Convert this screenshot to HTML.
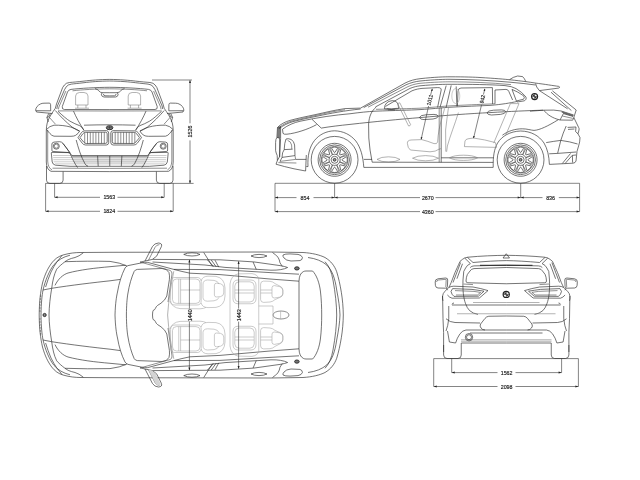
<!DOCTYPE html>
<html><head><meta charset="utf-8"><title>Dimensions</title>
<style>
html,body{margin:0;padding:0;background:#fff;}
body{width:640px;height:480px;overflow:hidden;font-family:"Liberation Sans",sans-serif;}
svg{display:block;will-change:transform;}
.k{fill:none;stroke:#2a2a2a;stroke-width:.65;stroke-linecap:butt;stroke-linejoin:round;}
.m{fill:none;stroke:#444;stroke-width:.6;stroke-linecap:butt;stroke-linejoin:round;}
.g{fill:none;stroke:#808080;stroke-width:.6;stroke-linecap:butt;stroke-linejoin:round;}
.l{fill:none;stroke:#a8a8a8;stroke-width:.6;stroke-linecap:butt;stroke-linejoin:round;}
.d{fill:none;stroke:#333;stroke-width:.6;}
.a{fill:#222;stroke:none;}
text{opacity:.999;font-family:"Liberation Sans",sans-serif;font-size:5.7px;fill:#111;stroke:#222;stroke-width:.15;text-anchor:middle;}
</style></head><body>
<svg width="640" height="480" viewBox="0 0 640 480">
<rect width="640" height="480" fill="#fff"/>
<!-- ================= FRONT VIEW ================= -->
<defs>
<g id="fh">
 <!-- roof / pillar / body side -->
 <path class="k" d="M109.75,79.4 C100,79.5 90,80.3 84,81.1 C78,81.8 73,82.2 69.5,82.5 Q66,82.8 64.4,85 L62.6,87.6 L56.5,104 L55.3,108.3 C52.5,112.5 49,117 47.2,123 Q46.3,126.5 46.3,131 L46.3,162 Q46.5,169.5 51,171.3 L109.75,171.6"/>
 <path class="m" d="M47.7,130 L47.7,161 Q48,168 52,169.8"/>
 <path class="k" d="M109.75,81 C100,81.1 90,81.9 84,82.7 C78,83.4 74,83.8 71.5,84.1 Q68,84.5 66.4,86.6 L64.6,89.5 L57.4,106 L56.8,109"/>
 <path class="m" d="M65.9,91 L58.9,107 L58.4,109.4"/>
 <!-- windshield -->
 <path class="k" d="M109.75,87.3 C96,87.4 80,88.3 71,89.4 Q68.3,89.8 67.5,92 L62.3,106.5 Q61.6,109.4 64.5,109.5 L109.75,109.6"/>
 <path class="m" d="M58,110.9 L109.75,111"/>
 <path class="m" d="M109.75,88.8 C96,88.9 82,89.7 72.5,90.8"/>
 <!-- mirror -->
 <path class="k" d="M35.6,110.3 Q36,106 40.6,103.9 Q42,103.2 44,103.2 L49.2,103.1 Q50.6,103.2 50.6,104.6 L50.7,110.8 L36,110.7 Q35.5,110.7 35.6,110.3 Z M36.1,110.8 L36.5,112 L52.4,113.5"/>
 <path class="k" d="M48.8,113.4 L46.9,117.4 L48.6,117 L50.4,113.5" fill="#666"/>
 <path class="k" d="M46.9,117.4 L48.2,122"/>
 <!-- headrest -->
 <!-- rear view mirror / sensor -->
 <path class="k" d="M95,88.6 Q97.5,89.2 98.8,90.8 Q100,92.6 102.5,92.7 L109.75,92.7"/>
 <path class="k" d="M102.6,92.8 Q101.2,93.2 101.4,94.8 Q101.8,96.8 104,97 L109.75,97.1 M103.5,94 Q103.4,95.6 105,95.8 L109.75,95.9"/>
 <!-- hood lines -->
 <path class="k" d="M55.3,110.5 C60,116 66,122 72,127 Q76,130 79.6,131"/>
 <path class="k" d="M73.5,111.1 C76,117 79.5,123.5 84,130.4"/>
 <path class="k" d="M58,111.3 C62,115 67,119.5 70,121.2 Q75,124 79.5,125.6 Q82,126.5 83.6,129.8"/>
 <path class="k" d="M84,125.2 Q97,124.8 109.75,124.8"/>
 <path class="m" d="M49.5,117.5 Q52.5,121 55.5,124.2"/>
 <!-- headlight -->
 <path class="k" d="M46.4,129.6 Q49.5,126 54,125.2 C60,125 66,125.8 70.5,127 Q76,128.6 79.5,131.1 Q78.5,133.6 75.5,135.4 Q74,136.3 71,136.3 L54,136.2 Q51.5,135.6 50,133.6 L46.9,130"/>
 <!-- grille -->
 <path class="k" d="M78,137.6 L81.4,132.6 Q82.6,131 84.6,130.9 L106.3,130.6 Q108.6,130.7 108.7,133 L108.7,142.6 Q108.6,144.9 106.3,145 L85.6,145 Q83.4,144.9 82.2,143.2 Z"/>
 <path class="k" d="M80,137.7 L82.8,133.8 Q83.8,132.5 85.3,132.4 L105.7,132.2 Q107.1,132.3 107.2,133.8 L107.2,141.8 Q107.1,143.3 105.6,143.4 L86.3,143.5 Q84.7,143.4 83.8,142.2 Z"/>
 <path class="m" d="M84.7,132.8 V143.1 M87.5,132.4 V143.5 M90.3,132.4 V143.5 M93.1,132.4 V143.5 M95.9,132.3 V143.5 M98.7,132.3 V143.5 M101.5,132.3 V143.4 M104.3,132.2 V143.4"/>
 <!-- logo -->
 <!-- fog light + lower intake -->
 <path class="k" d="M51.9,144 Q52,142.4 54,142.1 L59.6,141.7 Q61.8,141.8 63,143.4 L69.8,152.6 L52.6,151.4 Q51.8,151.2 51.9,150 Z"/>
 <circle class="k" cx="56.3" cy="146.2" r="3"/>
 <circle class="m" cx="56.3" cy="146.2" r="2"/>
 <path class="k" d="M51.3,153 Q51.2,152.4 52,152.4 L68,152.6 Q70,152.8 71,154.4 L72,155.7 L109.75,155.7"/>
 <path class="k" d="M51.3,153 L52.2,162 Q52.8,164.6 55.5,165.2 L70,166.3 L109.75,166.3"/>
 <path class="l" d="M53,155.5 H71 M53.2,157.6 H109.75 M53.4,159.7 H109.75 M53.7,161.8 H109.75 M55,163.9 H109.75"/>
 <path class="m" d="M71.5,156 H109.75"/>
 <path class="k" d="M97.6,155.8 L98.2,166.2"/>
 <path class="k" d="M76.2,140 C78,147 81,157 85,163.8 Q86,165.6 88,166.2"/>
 <path class="k" d="M69.8,152.6 C72,158 74.5,163.5 77.6,167.6 M62.8,143.3 Q66,147 69.8,152.6"/>
 <path class="m" d="M52.5,168.2 L109.75,168.4"/>
 <!-- wheel -->
 <path class="k" d="M46.5,166 L46.5,180.2 Q46.6,183.3 49.8,183.4 L59.8,183.4 Q63,183.3 63.1,180.2 L63.1,171.6"/>
</g>
</defs>
<path d="M72.5,156 H147 L145,163.6 H74.5 Z" fill="#e6e6e6"/>
<use href="#fh"/>
<use href="#fh" transform="translate(219.5,0) scale(-1,1)"/>
<path class="k" d="M109.75,155.8 V166.2"/>
<g id="hr1"><path class="g" d="M75.6,105 L75.6,96 Q75.8,92.6 79.5,92.5 L84,92.5 Q87.8,92.6 88,96 L88,105 Z M77.8,105 V108 M86,105 V108 M75,108.2 H89"/></g>
<use href="#hr1" transform="translate(52.6,0)"/>
<ellipse cx="109.6" cy="127.7" rx="3.3" ry="2" fill="#888" stroke="#222" stroke-width=".9"/>
<path d="M107.2,127.7 H112 M109.6,126 V129.4" stroke="#222" stroke-width=".5"/>
<!-- front dims -->
<path class="d" d="M45.5,183.4 H193.6 M152,80 H192 M190,80.5 V123.3 M190,140.4 V183"/>
<path class="a" d="M190,80 l-1,3 h2z M190,183.4 l-1,-3 h2z"/>
<text transform="translate(192.05,131.4) rotate(-90)" textLength="12" lengthAdjust="spacingAndGlyphs">1526</text>
<path class="d" d="M54.6,183.4 V197.3 M164.2,183.4 V197.3 M54.6,197.3 H100 M117.5,197.3 H164.2"/>
<path class="a" d="M54.6,197.3 l3,-1 v2z M164.2,197.3 l-3,-1 v2z"/>
<text x="109.3" y="199.35" textLength="11.8" lengthAdjust="spacingAndGlyphs">1563</text>
<path class="d" d="M45.6,183.4 V211.3 M173.2,183.4 V211.3 M45.6,211.3 H100 M117.5,211.3 H173.2"/>
<path class="a" d="M45.6,211.3 l3,-1 v2z M173.2,211.3 l-3,-1 v2z"/>
<text x="109.3" y="213.35" textLength="11.8" lengthAdjust="spacingAndGlyphs">1824</text>
<!-- ================= SIDE VIEW ================= -->
<g id="side">
 <!-- main outline: hood, windshield, roof, spoiler -->
 <path class="k" d="M277.5,127.5 C280,124.5 285,121.8 290,120.4 C298,118.2 306,116.6 315,114.7 C325,112.5 335,110 345,108.6 L360.6,108.1 L405,83.1 C410,80.5 415,79.3 420,78.7 C435,77 445,76.8 450,76.8 C465,76.8 475,77.2 480,77.5 C495,78.4 505,79.2 510,79.8 C522,81 530,82.2 535,83 C545,84.3 553,85.6 558.8,86.4 Q560,86.8 559.4,87.6 L558.6,88.1 L539.4,90.6"/>
 <!-- roof parallel lines -->
 <path class="k" d="M363.7,107.6 L406,84.8 C411,82.6 415,81.6 420,81 C435,79.5 445,79.3 450,79.3 C470,79.4 490,80.4 510,82.2 Q525,83.5 535.6,85"/>
 <path class="m" d="M368,107.2 L408,86.6 C412,84.8 416,83.8 420,83.3 C435,82 445,81.8 450,81.8 C470,81.9 490,82.6 511,84.6"/>
 <path class="k" d="M375.5,106.9 L410,88.4 C414,86.8 417,86.2 420,85.8 C435,84.4 445,84.3 450,84.3 C470,84.3 490,84.5 505,85.6 Q512,86.3 516,88.6 Q522,92 526,97 Q527,99.3 524.5,100.8 L517,102"/>
 <!-- front door glass -->
 <path class="k" d="M385.5,106.4 L412,90.8 C416,89.2 419,88.7 422,88.4 L437.5,87.6 Q441.5,87.5 441.2,90 L437.6,107.4"/>
 <!-- B pillar -->
 <path class="k" d="M446.2,85.6 L440,107.4 M451.2,85.4 L446.2,107.2 M456.2,86.4 L456.9,106.4"/>
 <!-- rear door glass -->
 <path class="k" d="M457.4,106.2 L458,91 Q458.2,88.2 461,88 L492.4,87.6 L492.6,104 M495,103.8 L495,90 L506,89.4 Q508,89.4 508.8,91.4 L512.6,100"/>
 <path class="k" d="M512,89.4 Q518,91.8 523.6,95.8 Q525,97.5 523.6,99.2 L516.4,101 Z"/>
 <!-- belt line -->
 <path class="k" d="M375,111.2 C395,110.4 410,110.2 420,109.6 C432,108.8 440,108 447.5,107.4 C465,106.4 480,105.8 490,105.4 C502,104.4 510,103 517.4,101.4"/>
 <path class="m" d="M376,109.3 C395,109 410,108.6 420,108.2 C432,107.4 440,106.6 447.5,106 C465,105 480,104.4 490,104 L495,103.8"/>
 <!-- hood second lines -->
 <path class="k" d="M279,128.6 C283,125.6 288,123 293,121.6 C302,119.3 310,117.6 318,116 C330,113.4 345,110.6 360.6,109"/>
 <path class="k" d="M282.5,129.2 C288,125 294,122.6 300,121.25 C318,117.4 335,115 350,113.75 C360,112.4 368,111.6 375,111.2"/>
 <path class="m" d="M278.4,128 C282,125 287,122.4 292,121 C300,118.8 308,117.2 316,115.4 C326,113.2 335,111 345,109.8"/>
 <!-- character line -->
 <path class="k" d="M321.25,128.1 C330,126.6 340,125.4 350,124.4 C375,121.6 400,119.2 420,117.6 C445,115.4 470,113.6 490,112.6 C510,111.4 528,110.6 543,110.2"/>
 <!-- door handles -->
 <path class="k" d="M419.5,117.4 Q420,115.2 426,114.8 L434,114.4 Q438,114.6 438.2,116.2 Q438,118.4 433,119 L424,119.6 Q420,119.6 419.5,117.4 Z"/>
 <path class="k" d="M487,112.8 Q487.5,110.6 493.5,110.2 L501.5,109.9 Q505.5,110 505.7,111.6 Q505.5,113.8 500.5,114.4 L491.5,115 Q487.5,115 487,112.8 Z"/>
 <!-- door cut lines -->
 <path class="k" d="M376.2,107 C371.5,111 369.2,116 368.6,124 L368.8,138 Q369.6,150 372.2,162.2 L493.2,162.4"/>
 <path class="k" d="M441.2,107.6 V162.4"/>
 <!-- sill -->
 <path class="k" d="M363.8,159.4 H372 M363.8,167.4 H493.2 M441.2,157.8 H493.4"/>
 <!-- mirror -->
 <path class="k" d="M384.4,108.8 Q384.6,101.4 392.4,100.6 Q398.2,100.8 398.4,106.6 L398.4,108.6 Q391,110.4 384.4,108.8 Z"/>
 <path class="m" d="M386.6,108.4 Q391.5,109.5 396.8,108.3 M388,110 L395,110"/>
 <!-- front end -->
 <path class="k" d="M277.5,127.5 L276.9,137.4 Q275.6,139 275.6,142.5 L275.6,150.5 Q276,153 277.2,155.5 L277.4,160.5 L276,164.2 Q284,166.6 294,168.8 L305.6,171 L306.3,155"/>
 <path class="k" d="M277.5,127.5 L280.6,126.6 L280.6,138.6 M278.2,127.6 L277.7,137.6 M279,127.4 L278.6,137.9 M279.8,127.2 L279.6,138.2"/>
 <path class="k" d="M280.6,138.6 L279.6,157"/>
 <path class="k" d="M276.9,137.4 L279.6,138.2 L279.6,156.6 L277.4,160.5"/>
 <!-- headlight -->
 <path class="k" d="M282.5,129.2 L283,133.4 Q284,134.6 287,134.2 C296,133.2 308,129.4 316.6,124.6 M312,119.3 L321.25,128.1"/>
 <!-- air intake -->
 <path class="k" d="M286,139 Q288,138.2 291,139.4 Q294,141 294.6,145 L295,155.6 L282,157.4 M286,139 Q284.4,143 284.2,149.6 L292.6,149.2 M284.2,149.6 L282.6,152.8 L282,157.4 L280,161.4"/>
 <path class="m" d="M287.6,140.4 Q290.6,141 291.6,145 L291.8,149 M280,161.4 L295.6,159.4 L295,155.6 M278.4,162.6 L296.4,163 "/>
 <path class="k" d="M295.8,159.4 L306.2,159.4"/>
 <!-- front arch -->
 <path class="k" d="M308,166.6 C307.4,156 309.4,147 314.4,140.6 C319.4,134.4 326.4,131 334.6,130.8 C343,131 350.6,134.6 355.8,141 C360.6,147.4 363,156 363.8,167.4"/>
 <path class="k" d="M306.3,166.5 L308,166.6"/>
 <!-- rear arch -->
 <path class="k" d="M493.2,167.4 C493,156 494.2,149 497.6,143 C502,136 510,131.4 520.6,131 C531,131.2 539,135.6 544,143 C547.6,149 549,156 549.4,164.4"/>
 <path class="k" d="M502.4,135.2 C508,131 515,128.8 522.4,128.8 C527,128.8 531,130.2 534,130.4 C540,130 548,126 558.3,119.7"/>
 <!-- rear end -->
 <path class="k" d="M552.4,90.8 L576.2,110 L573.8,117.5 L578.6,127.4 Q579.4,128.6 579,130 L578,133.8 L580,137.6 Q580,142 578.6,146 L577,151.4 L576,161 Q575.4,163 573,163.2 L549.4,164.4"/>
 <path class="k" d="M551,92.2 L571.4,110.6 M539.4,90.6 L567.6,108.8"/>
 <path class="k" d="M535.6,83.6 Q536,87 539.4,90.6"/>
 <!-- tail light -->
 <path class="k" d="M530,111.2 L543.8,110.2 C547,114.4 552,118 560,120 L572.6,120.2 L574,117.6 M561.2,111 L573.6,115 M560,120 L563.4,113.6 L573,116.4 M561.2,111 Q555,109.6 543.8,110.2"/>
 <path class="m" d="M561.6,112.2 L573,116 M562.4,116 L572.8,118.4"/>
 <path d="M561.2,111 L573.6,115 L573,116.4 L563.4,113.6 Z" fill="#666"/>
 <!-- rear bumper lines -->
 <path class="k" d="M566.2,126 Q563,133 560.8,140.4 L557.6,153.4 M546.2,142.6 Q554,141.2 560.8,140.4 Q570,141.6 577.6,144 M549.2,153.8 L557.6,153.4 L576.2,152"/>
 <path class="k" d="M562.4,163.4 L570.6,153.4 M565.2,163.4 L572.2,155.4 L576,155 M572.4,155.6 L572.6,162.6"/>
 <path class="k" d="M567.6,127.4 L576,127 L575.6,131.6 L578,133.8 M568,129.4 L574.4,129"/>
 <!-- BMW roundel -->
 <circle cx="534.6" cy="96.6" r="3" fill="#fff" stroke="#222" stroke-width="1.2"/>
 <path d="M534.6,94.2 V99 M532.2,96.6 H537" stroke="#222" stroke-width=".5"/>
 <path d="M534.6,96.6 L534.6,94.6 A2,2 0 0 0 532.6,96.6 Z M534.6,96.6 L534.6,98.6 A2,2 0 0 0 536.6,96.6 Z" fill="#333"/>
 <!-- shark fin -->
 <path class="k" d="M509.6,79.6 Q513,77 517.6,76 L522.6,76.6 Q524.6,78.4 525.8,81.6"/>
</g>
<!-- interior (gray) -->
<g id="sint">
 <path class="g" d="M397.6,103.6 L399.8,102.8 L410.6,124.6 Q410.4,126 408.6,126 Z"/>
 <path class="g" d="M407.4,143.4 Q407,140.4 411,140 L421.7,139.6 Q428,141.2 434,143.6 Q437,144.4 437.6,142 C438,134 439.6,125 442.5,116.5 L444.6,108.4"/>
 <path class="g" d="M407.4,143.4 Q407.6,148 410.4,150 L430,151.8 Q436,151.6 438.6,149.4 L441,148.6"/>
 <path class="g" d="M448.4,108 Q447,118 445.6,130 L445.8,151.6 M458.4,112.6 C455,124 450,136 447.4,146 L446.6,151.8"/>
 <ellipse class="l" cx="455.8" cy="96" rx="4" ry="7.6"/>
 <path class="g" d="M464.4,146.6 L465,141 Q465.6,139.2 468,138.8 L473.4,138 Q485,139.6 495.4,142.6 L496.6,147.4 Z"/>
 <path class="g" d="M510.4,103.6 L493.7,143.1 M519,103.6 L505.8,135 M510.4,103.6 H519"/>
 <path class="g" d="M377,159.4 Q381,156.8 388.5,156.8 Q396,156.8 400,159.4 Q396,162 388.5,162 Q381,162 377,159.4 Z"/>
 <path class="g" d="M412.5,158.2 Q417,155.6 425.5,155.6 Q434,155.6 438.6,158.2 Q434,160.8 425.5,160.8 Q417,160.8 412.5,158.2 Z"/>
 <path class="g" d="M449.4,157.8 Q454,155.2 463.4,155.2 Q473,155.2 477.6,157.8 Q473,160.4 463.4,160.4 Q454,160.4 449.4,157.8 Z"/>
 <path class="m" d="M439.2,108 V162.4"/>
</g>
<!-- wheels -->
<defs>
<g id="wh">
 <circle class="k" r="23.4"/>
 <circle class="k" r="16.5"/>
 <circle class="k" r="14.9"/>
 <circle class="m" r="13.4"/>
 <circle class="k" r="5.6"/>
 <circle class="k" r="3.5"/>
 <circle r="1.4" fill="#999" stroke="#222" stroke-width=".8"/>
 <g id="sp"><path class="k" d="M-2.6,-12.4 Q-3.2,-12.2 -2.9,-11.5 L-.5,-7.6 Q0,-7 .5,-7.6 L2.9,-11.5 Q3.2,-12.2 2.6,-12.4 Q0,-13 -2.6,-12.4 Z"/><path class="m" d="M-4.4,-12.6 L-2.2,-5.2 M4.4,-12.6 L2.2,-5.2"/></g>
 <use href="#sp" transform="rotate(45)"/>
 <use href="#sp" transform="rotate(90)"/>
 <use href="#sp" transform="rotate(135)"/>
 <use href="#sp" transform="rotate(180)"/>
 <use href="#sp" transform="rotate(225)"/>
 <use href="#sp" transform="rotate(270)"/>
 <use href="#sp" transform="rotate(315)"/>
</g>
</defs>
<use href="#wh" transform="translate(334.6,159.8)"/>
<use href="#wh" transform="translate(520.6,159.8)"/>
<!-- side dims -->
<path class="d" d="M275,183.3 H579.6 M275,183.3 V211.6 M579.6,183.3 V211.6 M334.6,183.3 V197.6 M520.7,183.3 V197.6"/>
<path class="d" d="M275,197.6 H296.5 M313.5,197.6 H334.6 M334.6,197.6 H420 M435.5,197.6 H520.7 M520.7,197.6 H542.5 M558.8,197.6 H579.6"/>
<path class="d" d="M275,211.6 H420 M435.5,211.6 H579.6"/>
<path class="a" d="M275,197.6 l3,-1 v2z M334.6,197.6 l-3,-1 v2z M334.6,197.6 l3,-1 v2z M520.7,197.6 l-3,-1 v2z M520.7,197.6 l3,-1 v2z M579.6,197.6 l-3,-1 v2z M275,211.6 l3,-1 v2z M579.6,211.6 l-3,-1 v2z"/>
<text x="305" y="199.65" textLength="8.9" lengthAdjust="spacingAndGlyphs">854</text>
<text x="427.8" y="199.65" textLength="11.8" lengthAdjust="spacingAndGlyphs">2670</text>
<text x="550.6" y="199.65" textLength="8.9" lengthAdjust="spacingAndGlyphs">836</text>
<text x="427.8" y="213.65" textLength="11.8" lengthAdjust="spacingAndGlyphs">4360</text>
<!-- interior dims -->
<path class="d" d="M432.2,89 L430.6,95 M428.6,106 L421.2,139.2 M484.8,89 L483.4,94.6 M481.6,104.6 L473.6,138"/>
<path class="a" d="M432.4,88.4 l-1.5,2.3 l1.7,.4z M421,139.8 l1.5,-2.3 l-1.7,-.4z M485,88.4 l-1.5,2.3 l1.7,.4z M473.4,138.6 l1.5,-2.3 l-1.7,-.4z"/>
<text transform="translate(431.6,100.4) rotate(-77)" textLength="11" lengthAdjust="spacingAndGlyphs" style="font-size:5.4px">1011</text>
<text transform="translate(484.3,99.6) rotate(-77)" textLength="8.6" lengthAdjust="spacingAndGlyphs" style="font-size:5.4px">942</text>
<!-- ================= TOP VIEW ================= -->
<defs>
<g id="th">
 <!-- outer body -->
 <path class="k" d="M39.2,315 C39.3,301 40.5,292 42.5,283 C45,274 48,268 51.7,263 C55,258.8 58,256.6 63,255 C70,253 75,252.6 80,252.5 L110,252.3 L270,252 L303,252.5 C312,253 320,255 325,257.5 C331,261 334.6,266 336.7,271.7 C340.4,284 343.2,300 343.3,315"/>
 <!-- front inner lines -->
 <path class="k" d="M41,315 C41.2,302 42,296 43,290 C45.5,280 49,271 54,264.6 C58,260 63,257 70,255.2"/>
 <!-- headlight -->
 <path class="k" d="M83.3,252.8 Q79,256.4 75,257.5 C70,258.6 67,260 65,261.7 C61.5,264.3 58.5,267 56.7,269.2 C54,274.5 52.6,281 51.7,288.3 C50.2,297 49.2,306 49,315"/>
 <path class="k" d="M62,255.4 Q60,258 56.6,262.4 Q54,266 51,272 Q48,279 45.6,287"/>
 <!-- hood creases -->
 <path class="k" d="M43,290 L51.7,288.3 C70,285.4 95,282.4 110,280.8 L120.4,279.4"/>
 <path class="k" d="M55,285.4 C58,279 63,274.6 68,273 C80,269.8 95,268 110,266.7 L125.6,265.2"/>
 <path class="k" d="M65,261.7 C80,261.2 95,261 110,261.4 Q120,262.6 127,266"/>
 <!-- windshield frame -->
 <path class="k" d="M115,315 C115.4,303 116.4,297 117.5,292 C119,283 121.5,275 125,268 Q126,266.4 128,265.6 L144.5,262.3 Q147.4,262 150,263 L173.75,269.4"/>
 <path class="k" d="M126.4,315 C126.5,305 127,299 127.8,294 C129.2,285 131.6,277 134.2,271.4 Q135.2,269.6 137.4,269.4 L162,268.5 Q167,268.6 169,272.6 Q169.8,275.6 169.4,279.6 L166.8,296 Q165.4,300 161,303.2 L157.6,305.4 Q156,306.6 155.4,308.4 Q155,309.8 153.4,310.2 Q152.5,311 152.5,315"/>
 <path class="m" d="M140,262 L170,270.4 Q172.4,271.4 172,274 L168,302"/>
 <path class="g" d="M173.8,271.2 C171,285 168.6,300 167.6,315"/>
 <!-- mirror -->
 <path class="k" d="M145,261 L152.4,246.6 Q154.4,243.2 158.4,243 Q162.6,243.2 161.4,246.6 L156.6,256.2 L152.6,259.2"/>
 <path class="m" d="M148.4,260.4 L155,247.4 Q156.6,244.6 159.4,244.6"/>
 <path class="k" d="M140,262.2 L145,261 L152.5,259.4"/>
 <!-- side lines -->
 <path class="k" d="M152.5,259.4 L220,259.8 L253.75,261.9 L280,265.6 Q285,266.4 287.6,267.5"/>
 <path class="k" d="M152.5,262 L205,265 L225,267.4 L271,270.2 Q282,270.4 287.6,267.5"/>
 <path class="k" d="M173.75,269.4 L220,269.6 L270,272.6 L299,274.2"/>
 <path class="k" d="M173.75,269.4 Q182,271.6 190,273.2 L220,274.6 L270,279 L299,281.2"/>
 <!-- B pillar -->
 <path class="k" d="M203.75,252.5 L212.5,266.4 M207.5,260 L213.75,266.6 M211.25,260 L216.25,266.9 M215,260.2 L218.75,267.1"/>
 <path class="k" d="M253.1,262 L256.25,269.4"/>
 <!-- door handles -->
 <path class="k" d="M183.75,254.4 Q187,252.8 192,252.8 Q197,252.8 200,254.4 Q197,256 192,256 Q187,256 183.75,254.4 Z"/>
 <path class="k" d="M251,256 Q254,254.4 259,254.4 Q264,254.4 267,256 Q264,257.6 259,257.6 Q254,257.6 251,256 Z"/>
 <!-- rear body lines -->
 <path class="k" d="M308,257.5 C316,258.6 322,261 326.7,265 C332,270 335,278 336.7,290 C338.6,300 339.8,308 340,315"/>
 <path class="k" d="M325,261.7 C329,266 331.6,272 333,280 C335.4,293 336.6,305 336.7,315"/>
 <path class="k" d="M283,255 Q285,253.8 290,253.9 L298,254.4 Q301.6,255 302.4,257.4 Q302.6,259.8 300,260.6 L291,261 Q286,260.6 284,258 Q282.6,256.4 283,255 Z"/>
 <!-- rear window -->
 <path class="k" d="M299,315 L299,281.2 Q299.2,273.6 303.4,271.6 Q304.6,271 306,271 L312.6,271 C316.6,275 319.4,283 320.4,291 C321.4,299 321.7,308 321.7,315"/>
 <ellipse cx="296.9" cy="268.4" rx="2.3" ry="1.6" fill="#777" stroke="#222" stroke-width=".9"/>
 <path class="k" d="M272.5,252.5 Q276,255 278,257.2 Q279.6,260 280,262.8 L282.3,266.4"/>
 <!-- seats (light) -->
 <path class="l" d="M170.6,282 Q170.6,277.5 175,277.5 L197,277.5 Q201.2,277.5 201.2,282 L201.2,300.6 Q201.2,305 197,305 L175,305 Q170.6,305 170.6,300.6 Z"/>
 <path class="l" d="M172.5,283 Q172.5,279 176.5,279 L196,279 Q200,279 200,283 L200,299.6 Q200,303.4 196,303.4 L176.5,303.4 Q172.5,303.4 172.5,299.6 Z M178.75,279 V303.4 M180.6,279 V303.4 M180.6,290 H200"/>
 <path class="l" d="M201.2,281 Q202,276.4 208,276.2 L216,276.4 Q224.6,278 225,288 L225,296 Q224.6,306 216,307.4 L208,307.6 Q202,307.4 201.2,303"/>
 <path class="l" d="M203,284 Q203.2,280.2 207.5,280 L214,280.4 Q218,281 219,284 M203,284 L203,297.6 Q203.2,301 207.5,301.2 L214,300.8 Q218,300.2 219,297.4"/>
 <path class="l" d="M214.4,285 Q214.6,283.2 216.6,283.2 L220.6,283.8 Q223.6,284.6 223.75,287.6 L223.75,293 Q223.6,296 220.6,296.6 L216.6,297 Q214.6,297 214.4,295.2 Z"/>
 <path class="l" d="M170,301 Q172,307.6 180,308.6 L200,308.8 Q204,308.6 206,307.4"/>
 <!-- rear seats -->
 <path class="l" d="M230,315 L230,284 Q231,275.4 238,273.9 L252,273.6 Q258,274.6 258.75,279 L258.75,315"/>
 <path class="l" d="M233,285 Q233.2,280.2 238,280 L251,280 Q255.8,280.2 256,285 L256,299 Q255.8,303.6 251,303.75 L238,303.75 Q233.2,303.6 233,299 Z"/>
 <path class="l" d="M234.8,286 Q235,282 239,281.8 L250,281.8 Q254,282 254.2,286 L254.2,298 Q254,301.8 250,302 L239,302 Q235,301.8 234.8,298 Z M235,290 H254 M235,293 H254"/>
 <path class="l" d="M260.6,284 Q260.8,281.2 263.6,281.1 L270,281.3 Q273,281.6 275,283.6 L280,286.2 Q282.6,287.4 282.8,290 L282.8,294 Q282.6,296.4 280,297.4 L275,299.6 Q273,301.6 270,302 L263.6,302.4 Q260.8,302.3 260.6,299.6 Z M260.6,290 H272 M260.6,293 H272"/>
 <path class="l" d="M272,287.6 Q272.2,285.6 274.4,285.6 L279.6,286.6 Q282.6,287.6 282.9,290 L282.9,294 Q282.6,296.4 279.6,297.2 L274.4,298 Q272.2,298 272,296 Z"/>
 <path class="l" d="M258.75,306 H273"/>
</g>
</defs>
<use href="#th"/>
<use href="#th" transform="translate(0,630) scale(1,-1)"/>
<path d="M148.4,260.4 L155,247.4 Q156.6,244.6 159.4,244.6 Q161,245 160.4,246.8 L155.8,256 L152.6,259.2 Z" fill="#d4d4d4" transform="translate(0,630) scale(1,-1)"/>
<!-- centre parts -->
<ellipse class="m" cx="281" cy="315" rx="8" ry="4"/>
<path class="l" d="M280.6,311 V319 M273,306 V324"/>
<circle cx="44.6" cy="315" r="1.6" fill="#888" stroke="#222" stroke-width=".9"/>
<!-- grille ticks in top view -->
<path class="k" d="M40,296 l1.2,.2 M39.8,299 l1.2,.1 M39.6,302 l1.2,.1 M39.5,305 l1.2,.1 M39.4,308 l1.2,0 M39.4,322 l1.2,0 M39.5,325 l1.2,-.1 M39.6,328 l1.2,-.1 M39.8,331 l1.2,-.1 M40,334 l1.2,-.2 M39.4,311 l1.2,0 M39.4,319 l1.2,0"/>
<!-- top dims -->
<path class="d" d="M189.4,260 V308.6 M189.4,321.6 V370 M238.6,261.4 V308.6 M238.6,321.6 V368.6"/>
<path class="a" d="M189.4,259.6 l-1,3 h2z M189.4,370.4 l-1,-3 h2z M238.6,261 l-1,3 h2z M238.6,369 l-1,-3 h2z"/>
<text transform="translate(191.5,315.2) rotate(-90)" textLength="12" lengthAdjust="spacingAndGlyphs">1440</text>
<text transform="translate(240.6,315.2) rotate(-90)" textLength="12" lengthAdjust="spacingAndGlyphs">1443</text>
<!-- ================= REAR VIEW ================= -->
<defs>
<g id="rh">
 <!-- outline -->
 <path class="k" d="M506.25,255.3 C495,255.4 480,256 468,257.2 Q464.4,257.6 462.4,259.4 L460,261.4 C458,266 456.4,269.4 455,272.5 L451.2,282.5 Q450,285.4 448.75,287.5 L445,291.25 Q442.8,293.4 442.6,296 L443,318.75 L443.6,332.5 L443.6,352"/>
 <path class="k" d="M467.5,257.4 L473,262.5 M464.8,258.2 L470.4,263.6"/>
 <path class="k" d="M460.6,262.5 L453,282.5 M462.5,263.75 L456.9,278.75"/>
 <!-- spoiler lines -->
 <path class="k" d="M473,262.5 C485,261.4 497,260.7 506.25,260.6"/>
 <path class="k" d="M470.4,263.6 Q467,265 465.6,268 L463.75,271.4 L463,280"/>
 <path d="M480,265.3 H506.25" stroke="#222" stroke-width="1" fill="none"/>
 <!-- rear window -->
 <path class="k" d="M506.25,265.1 L474,265.9 Q471.4,266 470.2,267.6"/>
 <path class="k" d="M506.25,267.5 L474,268.6 Q471.2,268.8 470,271 L467.4,274.4 Q466.2,277 466,281 Q466,282.6 467.8,282.75 L506.25,283.75"/>
 <!-- trunk cut -->
 <path class="k" d="M463,280 C462.6,290 463.4,298 465.6,303.75 Q467,308 469.6,310.6 Q473,313.6 478,314.4"/>
 <!-- tail light -->
 <path class="k" d="M448.75,287.5 Q451,286.2 453.75,286.2 L473,287 Q481,288.4 488,290.6 L479.4,298 L452,298.2 Q449.6,297.6 447.4,295"/>
 <path class="k" d="M452.6,288.6 L472,289.4 Q478,290.2 484,291.2 L478.4,296.2 L454,296.4 Q451.6,294.6 451,291.4 Z"/>
 <path class="m" d="M455,290.6 L474,291.4 L480.6,292.4 L477.4,295 L456,295 M463.4,284 L473,284.6"/>
 <!-- mirror -->
 <path class="k" d="M435.2,282 Q435,279.2 438,278.8 L445.6,278 Q447.8,278 447.7,280 L447.4,286.6 Q447.2,288.2 445.4,288.2 L438,288 Q435.6,287.8 435.4,285.4 Z"/>
 <path class="m" d="M436.6,282 Q436.5,280.2 438.6,280 L446,279.3 M446.2,279.4 L445.8,287"/>
 <path class="k" d="M446.4,288.2 L447.6,290.2 M442.5,296 Q442.4,299.4 443,300.8"/>
 <!-- bumper -->
 <path class="k" d="M448.75,306 L448.75,318.75 Q448,326 446,331"/>
 <path class="k" d="M452,304.4 Q452.4,303 454,303 M452,305 L506.25,305"/>
 <path class="g" d="M473,302.5 H506.25 M457,313.75 H506.25"/>
 <path class="k" d="M446,318.75 Q450,322.4 455,322.5 L480,323 "/>
 <path class="k" d="M506.25,316 L488.75,316.25 Q486.4,316.6 485,318.4 L480.6,324 Q479.4,326.2 481,328 Q482.4,330 485,330 L506.25,330"/>
 <path class="k" d="M447.5,331 L449.4,342 L455.6,343 Q457,338 460,333.75 Q462.6,330.4 466,330 L485,330"/>
 <path class="k" d="M461.25,343 L506.25,343 M470,333 L506.25,333"/>
 <path class="g" d="M461,339.75 H506.25 M461,341.25 H506.25"/>
 <!-- wheel -->
 <path class="k" d="M443.6,345 L443.6,355 Q443.8,358.4 447,358.5 L458,358.5 Q461.2,358.4 461.25,355 L461.25,343"/>
</g>
</defs>
<use href="#rh"/>
<use href="#rh" transform="translate(1012.5,0) scale(-1,1)"/>
<circle class="k" cx="469" cy="337.2" r="3.7" fill="#fff"/>
<circle class="k" cx="469" cy="337.2" r="2.5"/>
<path class="k" d="M503,258 L506.25,253.75 L509.5,258 Z" fill="#fff"/>
<circle cx="506.25" cy="294.4" r="3.1" fill="#fff" stroke="#222" stroke-width="1.2"/>
<path d="M506.25,291.4 V297.4 M503.25,294.4 H509.25" stroke="#222" stroke-width=".5"/>
<path d="M506.25,294.4 L506.25,292.3 A2.1,2.1 0 0 0 504.15,294.4 Z M506.25,294.4 L506.25,296.5 A2.1,2.1 0 0 0 508.35,294.4 Z" fill="#333"/>
<!-- rear dims -->
<path class="d" d="M433.7,358.6 H578.4 M433.7,358.6 V386.5 M578.4,358.6 V386.5 M451.7,358.6 V372.6 M561.6,358.6 V372.6"/>
<path class="d" d="M451.7,372.6 H497.5 M515.5,372.6 H561.6 M433.7,386.5 H497.5 M515.5,386.5 H578.4"/>
<path class="a" d="M451.7,372.6 l3,-1 v2z M561.6,372.6 l-3,-1 v2z M433.7,386.5 l3,-1 v2z M578.4,386.5 l-3,-1 v2z"/>
<text x="506.6" y="374.65" textLength="11.8" lengthAdjust="spacingAndGlyphs">1562</text>
<text x="506.6" y="388.55" textLength="11.8" lengthAdjust="spacingAndGlyphs">2098</text>
</svg>
</body></html>
